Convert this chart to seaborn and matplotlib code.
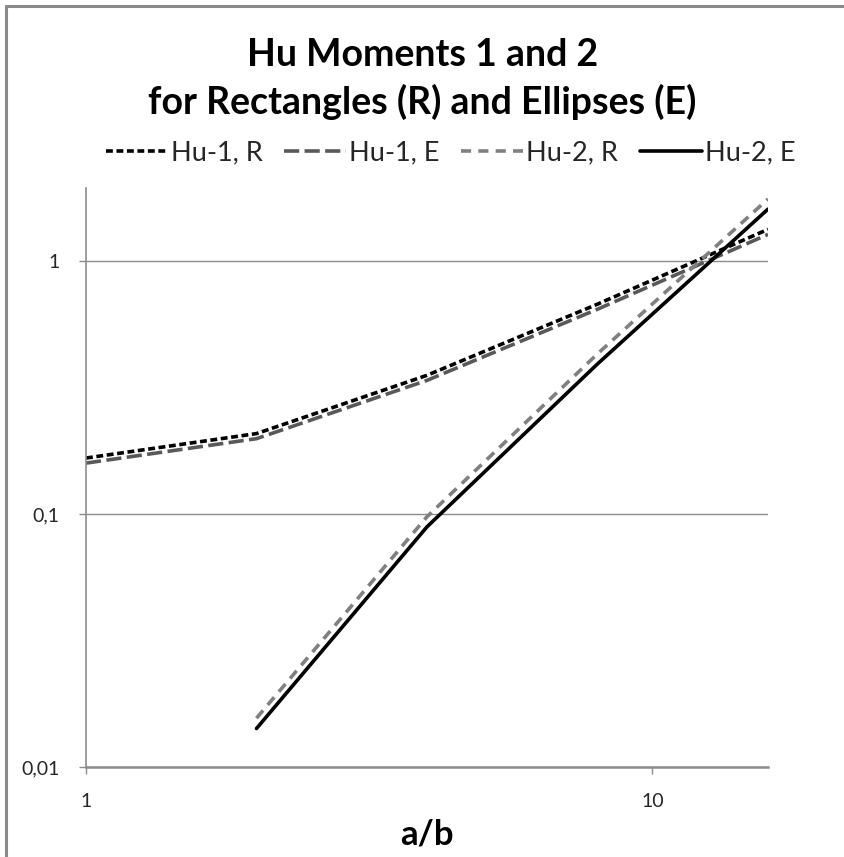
import numpy as np
import pandas as pd
import matplotlib
matplotlib.use("Agg")
import matplotlib.pyplot as plt
from matplotlib.lines import Line2D
from matplotlib.ticker import FixedLocator, FixedFormatter, NullLocator
import seaborn as sns

# ---- data ----
ratio = [1, 2, 4, 8, 16]
hu1_rect = [0.1667, 0.2083, 0.3542, 0.6771, 1.3385]
hu1_ell = [0.1592, 0.1989, 0.3382, 0.6466, 1.2782]
hu2_rect = [np.nan, 0.0156, 0.0977, 0.4307, 1.7639]
hu2_ell = [np.nan, 0.0142, 0.0891, 0.3928, 1.6086]
series_names = ["Hu-1, R", "Hu-1, E", "Hu-2, R", "Hu-2, E"]
y_ticks = [0.01, 0.1, 1]
y_tick_labels = ["0,01", "0,1", "1"]
x_ticks = [1, 10]
x_tick_labels = ["1", "10"]

sns.set_theme(style="white")
plt.rcParams["font.family"] = ["Lato", "DejaVu Sans"]

df = pd.DataFrame({
    "a/b": ratio * 4,
    "value": hu1_rect + hu1_ell + hu2_rect + hu2_ell,
    "series": sum([[n] * len(ratio) for n in series_names], []),
})

styles = {
    "Hu-1, R": dict(color="#000000", dashes=(1.9, 1.0)),
    "Hu-1, E": dict(color="#595959", dashes=(4.2, 1.5)),
    "Hu-2, R": dict(color="#808080", dashes=(2.8, 2.0)),
    "Hu-2, E": dict(color="#000000", dashes=None),
}

fig = plt.figure(figsize=(8.45, 8.57), dpi=100)
ax = fig.add_axes([86 / 845, 1 - 767 / 857, (768 - 86) / 845, (767 - 188) / 857])

for name in series_names:
    sub = df[df["series"] == name].dropna()
    st = styles[name]
    sns.lineplot(data=sub, x="a/b", y="value", ax=ax, color=st["color"],
                 linewidth=2.6, label=name, estimator=None, sort=False)
    ln = ax.get_lines()[-1]
    if st["dashes"] is not None:
        ln.set_dashes(st["dashes"])
        ln.set_dash_capstyle("butt")

ax.set_xscale("log")
ax.set_yscale("log")
ax.set_xlim(1, 16)
ax.set_ylim(0.01, 1.95)

ax.xaxis.set_major_locator(FixedLocator(x_ticks))
ax.xaxis.set_major_formatter(FixedFormatter(x_tick_labels))
ax.xaxis.set_minor_locator(NullLocator())
ax.yaxis.set_major_locator(FixedLocator(y_ticks))
ax.yaxis.set_major_formatter(FixedFormatter(y_tick_labels))
ax.yaxis.set_minor_locator(NullLocator())

ax.grid(False)
ax.yaxis.grid(True, color="#8c8c8c", linewidth=1.0)
for s in ["top", "right"]:
    ax.spines[s].set_visible(False)
ax.spines["left"].set_color("#8c8c8c")
ax.spines["left"].set_linewidth(1.2)
ax.spines["bottom"].set_color("#8c8c8c")
ax.spines["bottom"].set_linewidth(1.8)

ax.tick_params(axis="both", which="major", direction="out", length=5, width=1.0,
               color="#8c8c8c", labelsize=14, labelcolor="#262626",
               bottom=True, left=True)
ax.tick_params(axis="y", pad=14)
ax.tick_params(axis="x", pad=14)

ax.set_xlabel("a/b", fontsize=25, fontweight="bold", labelpad=6, color="#000000")
ax.set_ylabel("")

if ax.legend_:
    ax.legend_.remove()
handles, labels = ax.get_legend_handles_labels()
fig.legend(handles, labels, loc="center", bbox_to_anchor=(0.533, 1 - 153 / 857),
           ncol=4, frameon=False, fontsize=19.5, handlelength=2.3,
           handletextpad=0.1, columnspacing=0.8, labelcolor="#262626")

fig.text(0.5, 1 - 55 / 857, "Hu Moments 1 and 2", ha="center", va="center",
         fontsize=27, fontweight="bold", color="#000000")
fig.text(0.5, 1 - 102 / 857, "for Rectangles (R) and Ellipses (E)", ha="center",
         va="center", fontsize=27, fontweight="bold", color="#000000")

# chart area border (top and left visible)
fig.add_artist(Line2D([6 / 845, 1.2], [1 - 6 / 857, 1 - 6 / 857],
                      transform=fig.transFigure, color="#8a8a8a", linewidth=2.2))
fig.add_artist(Line2D([6 / 845, 6 / 845], [-0.2, 1 - 6 / 857],
                      transform=fig.transFigure, color="#8a8a8a", linewidth=2.2))

fig.savefig("out.png", dpi=100, facecolor="white")
